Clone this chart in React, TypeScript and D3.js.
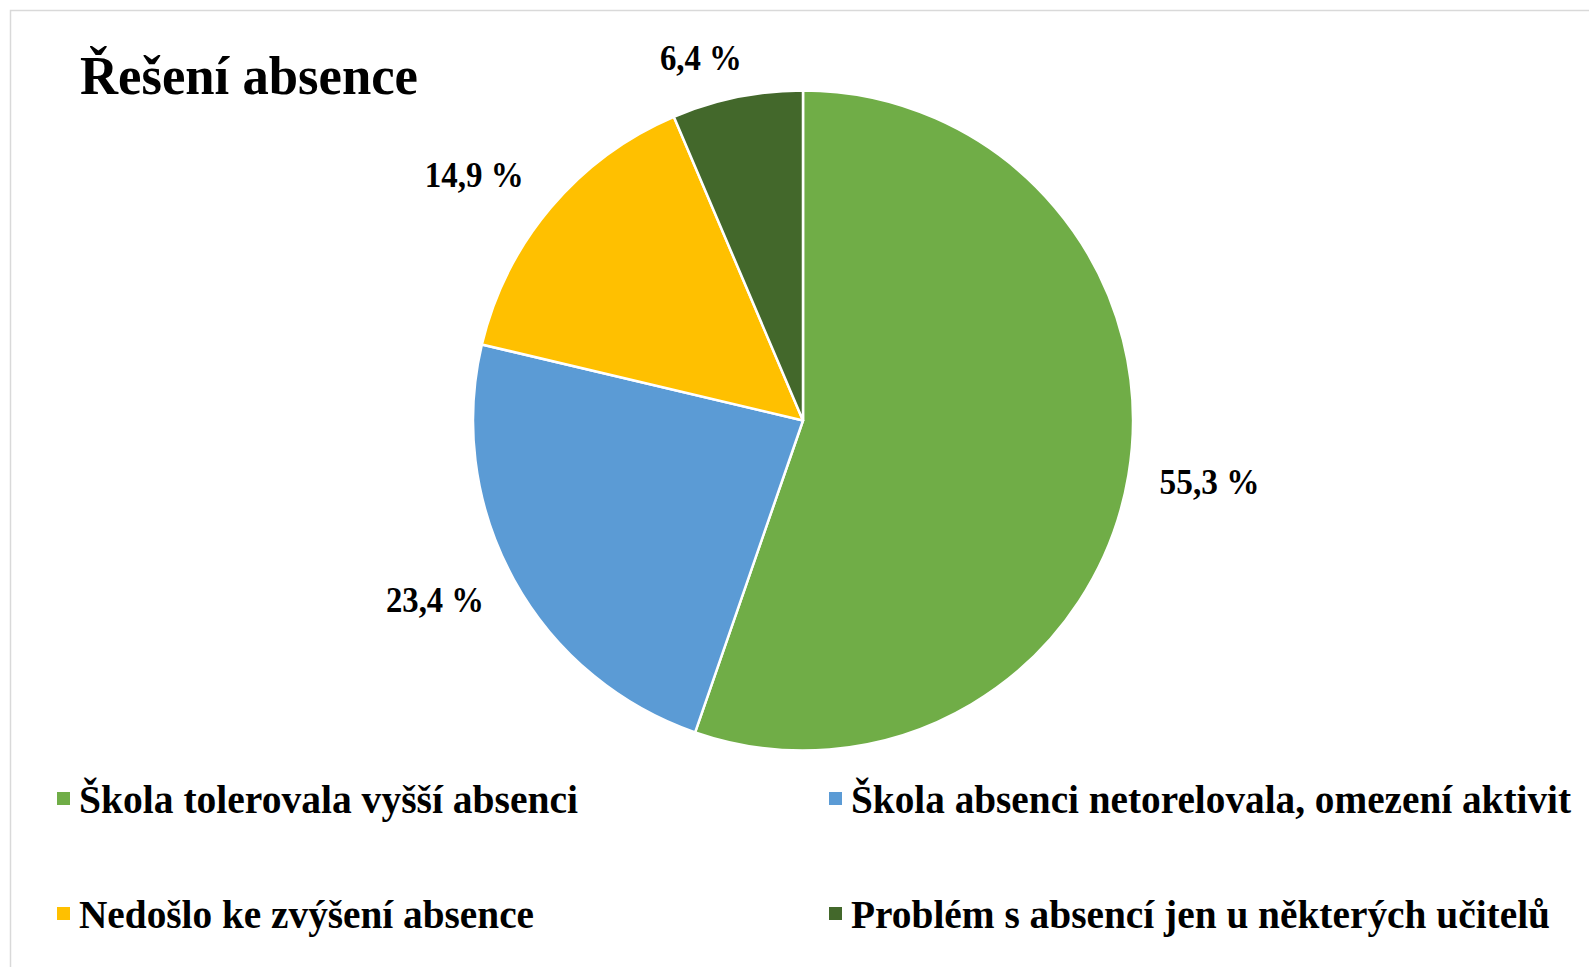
import React, { useEffect, useRef } from "react";
import * as d3 from "d3";

// values (percent)
const categories = [
  "Škola tolerovala vyšší absenci",
  "Škola absenci netorelovala, omezení aktivit",
  "Nedošlo ke zvýšení absence",
  "Problém s absencí jen u některých učitelů",
];
const values = [55.3, 23.4, 14.9, 6.4];
const colors = ["#70AD47", "#5B9BD5", "#FFC000", "#43682B"];
const title = "Řešení absence";

const width = 1589;
const height = 967;
const cx = 803;
const cy = 420.5;
const radius = 330;
const font = "'Liberation Serif', 'Times New Roman', serif";

// small hand nudges, like Excel does for outside-end labels
const labelNudge = [
  [0, -7],
  [-9, -18],
  [-18, 17],
  [-26, 11],
];
const labelWidths = [100, 98, 99, 82];
const legendWidths = [499, 720, 455, 699];

const fmt = (v: number) => v.toFixed(1).replace(".", ",") + " %";

const App = () => {
  const ref = useRef<SVGSVGElement>(null);

  function pieChart() {
    const svg = d3.select(ref.current);
    svg.selectAll("*").remove();

    const data = categories.map((name, i) => ({ name, value: values[i], color: colors[i] }));

    // chart area frame (runs off the right and bottom of the picture)
    svg
      .append("path")
      .attr("d", `M10.5,${height}V10.5H${width}`)
      .attr("fill", "none")
      .attr("stroke", "#d9d9d9")
      .attr("stroke-width", 1.5);

    svg
      .append("text")
      .attr("x", 80)
      .attr("y", 94)
      .attr("font-family", font)
      .attr("font-weight", "bold")
      .attr("font-size", 55)
      .attr("textLength", 338)
      .attr("lengthAdjust", "spacingAndGlyphs")
      .text(title);

    const pie = d3
      .pie<any>()
      .sort(null)
      .value((d) => d.value);

    const arc = d3.arc<any>().innerRadius(0).outerRadius(radius);

    const g = svg.append("g").attr("transform", `translate(${cx},${cy})`);

    const arcs = pie(data);

    g.selectAll("path")
      .data(arcs)
      .join("path")
      .attr("fill", (d) => d.data.color)
      .attr("stroke", "#fff")
      .attr("stroke-width", 2.5)
      .attr("stroke-linejoin", "round")
      .attr("d", arc);

    // labels: outside end, box just off the rim
    const pad = 31;
    g.selectAll("text.lbl")
      .data(arcs)
      .join("text")
      .attr("class", "lbl")
      .attr("font-family", font)
      .attr("font-weight", "bold")
      .attr("font-size", 35)
      .attr("text-anchor", "middle")
      .attr("textLength", (d, i) => labelWidths[i])
      .attr("lengthAdjust", "spacingAndGlyphs")
      .attr("transform", (d, i) => {
        const a = (d.startAngle + d.endAngle) / 2;
        const sx = Math.sin(a);
        const sy = -Math.cos(a);
        const w = labelWidths[i] / 2;
        const h = 12;
        const t = radius + pad + Math.abs(w * sx) + Math.abs(h * sy);
        const x = t * sx + labelNudge[i][0];
        const y = t * sy + labelNudge[i][1] + 12;
        return `translate(${x},${y})`;
      })
      .text((d) => fmt(d.data.value));

    // legend, two columns
    const legendX = [57, 829];
    const legendY = [813, 928];
    const leg = svg
      .append("g")
      .selectAll("g")
      .data(data)
      .join("g")
      .attr("transform", (d, i) => `translate(${legendX[i % 2]},${legendY[Math.floor(i / 2)]})`);

    leg
      .append("rect")
      .attr("x", 0)
      .attr("y", -21)
      .attr("width", 13)
      .attr("height", 13)
      .attr("fill", (d) => d.color);

    leg
      .append("text")
      .attr("x", 22)
      .attr("y", 0)
      .attr("font-family", font)
      .attr("font-weight", "bold")
      .attr("font-size", 41)
      .attr("textLength", (d, i) => legendWidths[i])
      .attr("lengthAdjust", "spacingAndGlyphs")
      .text((d) => d.name);
  }

  useEffect(() => {
    pieChart();
  }, []);

  return (
    <svg
      ref={ref}
      width={width}
      height={height}
      style={{ position: "absolute", left: 0, top: 0, display: "block", background: "#fff" }}
    ></svg>
  );
};

export default App;
